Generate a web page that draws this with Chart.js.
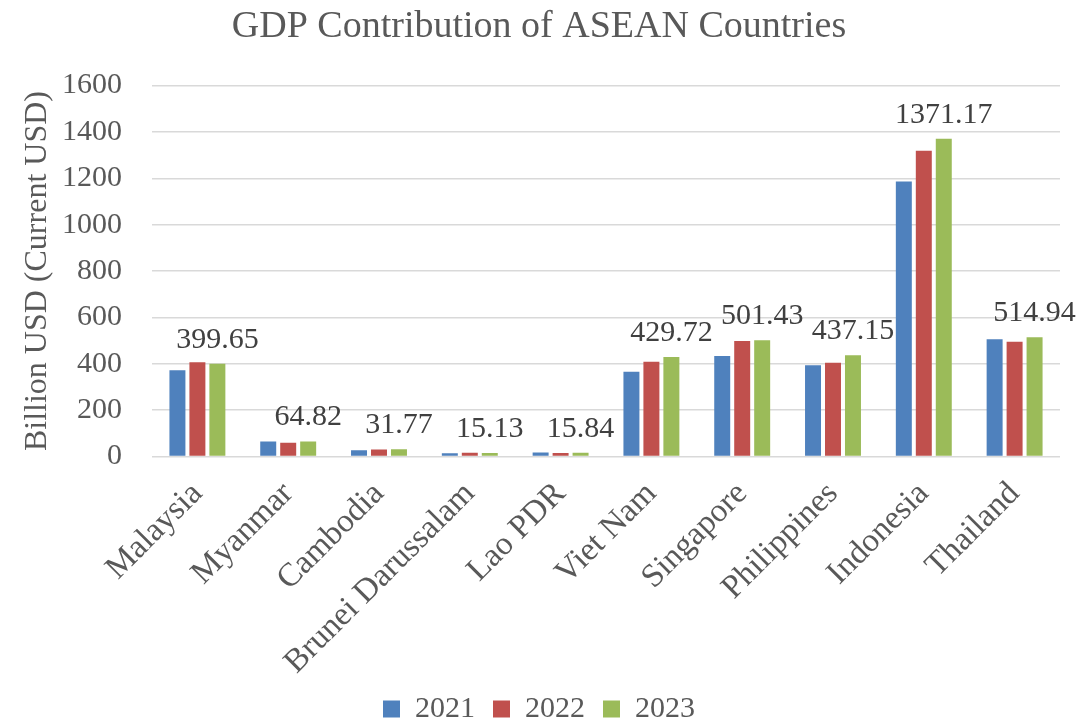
<!DOCTYPE html>
<html>
<head>
<meta charset="utf-8">
<script src="https://cdn.jsdelivr.net/npm/chart.js@4/dist/chart.umd.min.js"></script>
<style>
    html, body { margin: 0; padding: 0; background: #ffffff; }
    #grafico { width: 1084px; height: 723px; }
</style>
</head>
<body>
<div id="grafico"><canvas id="canvasGrafico"></canvas></div>
<script>
const paises = ['Malaysia', 'Myanmar', 'Cambodia', 'Brunei Darussalam', 'Lao PDR', 'Viet Nam', 'Singapore', 'Philippines', 'Indonesia', 'Thailand'];
const anos = ['2021', '2022', '2023'];
const valores2021 = [372, 65, 27, 14, 17.5, 366, 434, 394, 1186, 506];
const valores2022 = [407, 59, 30, 16.7, 15.5, 409, 498, 404, 1319, 495];
const valores2023 = [399.65, 64.82, 31.77, 15.13, 15.84, 429.72, 501.43, 437.15, 1371.17, 514.94];
const cores = ['#4F81BD', '#C0504D', '#9BBB59'];

const fonte = '"Liberation Serif", "Times New Roman", serif';

// rotulos so na serie de 2023, em cima da barra
const rotulos2023 = {
    id: 'rotulos2023',
    afterDatasetsDraw(chart) {
        const ctx = chart.ctx;
        const meta = chart.getDatasetMeta(2);
        ctx.save();
        ctx.font = '30px ' + fonte;
        ctx.fillStyle = '#404040';
        ctx.textAlign = 'center';
        ctx.textBaseline = 'alphabetic';
        meta.data.forEach((barra, i) => {
            ctx.fillText(valores2023[i].toFixed(2), barra.x, barra.y - 16);
        });
        ctx.restore();
    }
};

new Chart(document.getElementById('canvasGrafico'), {
    type: 'bar',
    data: {
        labels: paises,
        datasets: [
            { label: anos[0], data: valores2021, backgroundColor: cores[0] },
            { label: anos[1], data: valores2022, backgroundColor: cores[1] },
            { label: anos[2], data: valores2023, backgroundColor: cores[2] }
        ]
    },
    options: {
        responsive: true,
        maintainAspectRatio: false,
        animation: false,
        layout: { padding: { left: 18, right: 24, top: 4, bottom: -11 } },
        datasets: {
            bar: { categoryPercentage: 0.66, barPercentage: 0.8 }
        },
        plugins: {
            title: {
                display: true,
                text: 'GDP Contribution of ASEAN Countries',
                color: '#595959',
                font: { family: fonte, size: 38, weight: 'normal' },
                padding: { top: 0, bottom: 36 }
            },
            legend: {
                position: 'bottom',
                labels: {
                    color: '#595959',
                    font: { family: fonte, size: 30 },
                    boxWidth: 17,
                    boxHeight: 17,
                    padding: 18
                }
            },
            tooltip: { enabled: false }
        },
        scales: {
            x: {
                grid: { display: false },
                border: { display: false },
                afterFit: (escala) => { escala.height = escala.height - 16; },
                ticks: {
                    color: '#595959',
                    font: { family: fonte, size: 33 },
                    maxRotation: 45,
                    minRotation: 45,
                    padding: 10
                }
            },
            y: {
                min: 0,
                max: 1600,
                afterFit: (escala) => { escala.width = 134; },
                ticks: {
                    stepSize: 200,
                    color: '#595959',
                    font: { family: fonte, size: 30 },
                    padding: 30,
                    callback: (v) => String(v)
                },
                grid: { color: '#d9d9d9', lineWidth: 1.5, drawTicks: false },
                border: { display: false },
                title: {
                    display: true,
                    text: 'Billion USD (Current USD)',
                    color: '#595959',
                    font: { family: fonte, size: 32 },
                    padding: { top: 0, bottom: 4 }
                }
            }
        }
    },
    plugins: [rotulos2023]
});
</script>
</body>
</html>
